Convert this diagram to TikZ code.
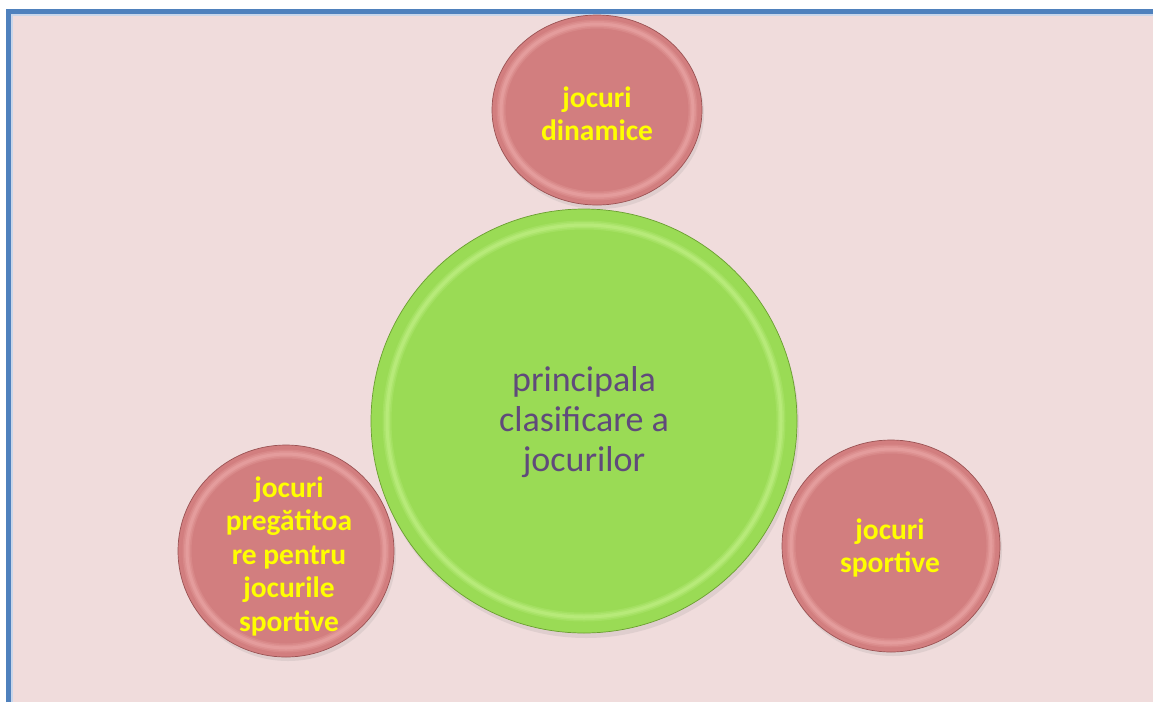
\documentclass[tikz,border=0pt]{standalone}
\usepackage{fontspec}
\setmainfont{Carlito}
\usetikzlibrary{shapes.geometric,shadows}
\definecolor{bgpink}{HTML}{F0DCDC}
\definecolor{frameblue}{HTML}{4F81BD}
\definecolor{framelight}{HTML}{C9D6EA}
\definecolor{redbase}{HTML}{D27E7F}
\definecolor{redlight}{HTML}{F0B0B0}
\definecolor{reddark}{HTML}{9A5253}
\definecolor{greenbase}{HTML}{9ADB55}
\definecolor{greenlight}{HTML}{CBF592}
\definecolor{greendark}{HTML}{6A9E30}
\definecolor{txtyellow}{HTML}{FFFF00}
\definecolor{txtpurple}{HTML}{604A7B}
\tikzset{
  redball/.style={ellipse, inner sep=0pt, draw=reddark, line width=0.7pt, fill=redbase,
    drop shadow={opacity=0.15, shadow xshift=2pt, shadow yshift=-4pt}},
  greenball/.style={ellipse, inner sep=0pt, draw=greendark, line width=0.7pt, fill=greenbase,
    drop shadow={opacity=0.15, shadow xshift=2pt, shadow yshift=-5pt}},
  softring/.style={draw=#1, line width=9pt, opacity=0.2,
    postaction={draw=#1, line width=6pt, opacity=0.25},
    postaction={draw=#1, line width=3pt, opacity=0.35}},
  yellowtxt/.style={align=center, text=txtyellow, font=\fontsize{29.5}{33.5}\selectfont\bfseries},
  purpletxt/.style={align=center, text=txtpurple, font=\fontsize{36}{40}\selectfont},
}
\begin{document}
\begin{tikzpicture}[x=1pt,y=-1pt]
\useasboundingbox (0,0) rectangle (1153,702);
\fill[white] (0,0) rectangle (1153,702);
\fill[bgpink] (6,9) rectangle (1153,702);
\draw[framelight, line width=1.5pt] (12,702) -- (12,15) -- (1153,15);
\draw[frameblue, line width=5pt] (8.5,702) -- (8.5,11.5) -- (1153,11.5);
% central circle
\node[greenball, minimum width=426pt, minimum height=424pt] (center) at (584,421) {};
\draw[softring=greenlight] (center.center) ellipse [x radius=197, y radius=196];
% satellites
\node[redball, minimum width=210pt, minimum height=190pt] (top) at (597,110) {};
\draw[softring=redlight] (top.center) ellipse [x radius=96, y radius=86];
\node[redball, minimum width=216pt, minimum height=212pt] (left) at (286,551) {};
\draw[softring=redlight] (left.center) ellipse [x radius=99, y radius=97];
\node[redball, minimum width=218pt, minimum height=212pt] (right) at (891,546) {};
\draw[softring=redlight] (right.center) ellipse [x radius=100, y radius=97];
% texts
\node[purpletxt] (centertxt) at ([yshift=-1pt]center.center) {principala\\clasificare a\\jocurilor};
\node[yellowtxt] (toptxt) at ([yshift=-4pt]top.center) {jocuri\\dinamice};
\node[yellowtxt] (lefttxt) at ([xshift=3pt,yshift=-5pt]left.center) {jocuri\\pregătitoa\\re pentru\\jocurile\\sportive};
\node[yellowtxt] (righttxt) at ([xshift=-1pt,yshift=-2pt]right.center) {jocuri\\sportive};
\end{tikzpicture}
\end{document}
